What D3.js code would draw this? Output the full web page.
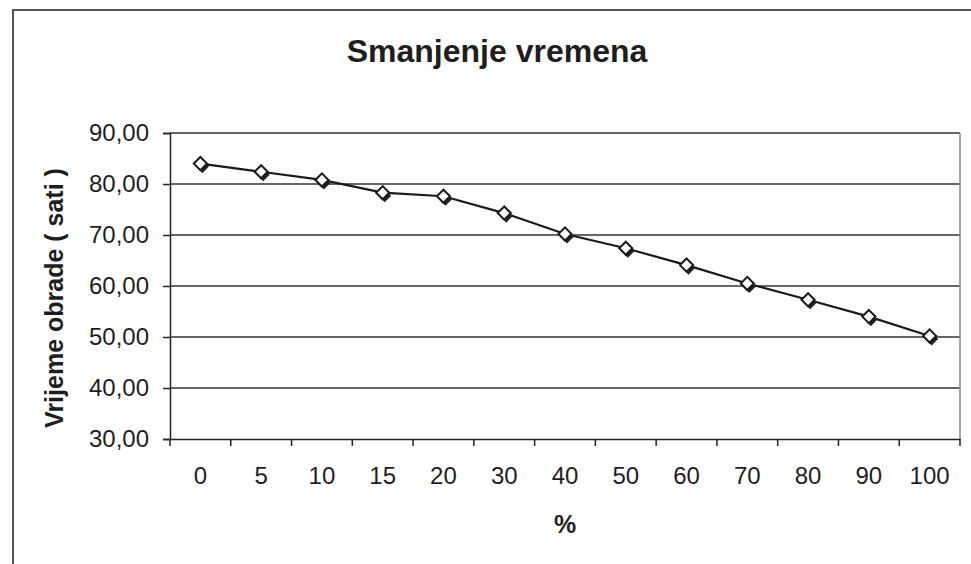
<!DOCTYPE html>
<html>
<head>
<meta charset="utf-8">
<script src="https://cdn.jsdelivr.net/npm/d3@7"></script>
<style>
  body { margin: 0; background: #fff; }
  svg text { font-family: "Liberation Sans", Arial, sans-serif; fill: #1e1e1e; }
</style>
</head>
<body>
<div id="chart"></div>
<script>
// percentages on the x axis and processing time (hours)
const categories = ["0", "5", "10", "15", "20", "30", "40", "50", "60", "70", "80", "90", "100"];
const hours = [84.0, 82.4, 80.8, 78.3, 77.6, 74.3, 70.2, 67.4, 64.1, 60.5, 57.3, 54.0, 50.2];
const yTicks = [30, 40, 50, 60, 70, 80, 90];

const W = 971, H = 564;
const plot = { left: 170, right: 960, top: 133, bottom: 439 };

const svg = d3.select("#chart").append("svg")
    .attr("width", W)
    .attr("height", H);

// outer chart frame (runs off the right and bottom of the scan)
svg.append("rect")
    .attr("x", 13).attr("y", 10)
    .attr("width", 1000).attr("height", 600)
    .attr("fill", "none")
    .attr("stroke", "#555")
    .attr("stroke-width", 2);

const x = d3.scaleBand().domain(categories).range([plot.left, plot.right]).padding(0);
const y = d3.scaleLinear().domain([30, 90]).range([plot.bottom, plot.top]);

const comma = d3.formatLocale({ decimal: ",", thousands: ".", grouping: [3], currency: ["", ""] }).format(".2f");

// gridlines
svg.append("g")
    .selectAll("line")
    .data(yTicks.filter(d => d > 30))
    .join("line")
    .attr("x1", plot.left).attr("x2", plot.right)
    .attr("y1", d => y(d)).attr("y2", d => y(d))
    .attr("stroke", "#333")
    .attr("stroke-width", 1.5);

// right border of plot area
svg.append("line")
    .attr("x1", plot.right).attr("x2", plot.right)
    .attr("y1", plot.top).attr("y2", plot.bottom)
    .attr("stroke", "#888")
    .attr("stroke-width", 1.5);

// y axis
const yAxis = svg.append("g")
    .attr("transform", `translate(${plot.left},0)`)
    .call(d3.axisLeft(y).tickValues(yTicks).tickFormat(comma).tickSize(7).tickPadding(14));
yAxis.select(".domain").attr("stroke", "#222").attr("stroke-width", 1.5);
yAxis.selectAll(".tick line").attr("stroke", "#222").attr("stroke-width", 1.5);
yAxis.selectAll(".tick text")
    .attr("font-size", 24)
    .attr("font-family", "Liberation Sans, Arial, sans-serif")
    .attr("fill", "#1e1e1e");

// x axis: labels centred in bands, ticks at band edges
const xAxis = svg.append("g")
    .attr("transform", `translate(0,${plot.bottom})`)
    .call(d3.axisBottom(x).tickSize(0).tickPadding(28));
xAxis.select(".domain").attr("stroke", "#222").attr("stroke-width", 1.5);
xAxis.selectAll(".tick text")
    .attr("font-size", 24)
    .attr("font-family", "Liberation Sans, Arial, sans-serif")
    .attr("fill", "#1e1e1e");

const edges = categories.map(c => x(c)).concat([plot.right]);
xAxis.append("g")
    .selectAll("line")
    .data(edges)
    .join("line")
    .attr("x1", d => d).attr("x2", d => d)
    .attr("y1", 0).attr("y2", 7)
    .attr("stroke", "#222")
    .attr("stroke-width", 1.5);

// series line
const line = d3.line()
    .x((d, i) => x(categories[i]) + x.bandwidth() / 2)
    .y(d => y(d));

svg.append("path")
    .datum(hours)
    .attr("d", line)
    .attr("fill", "none")
    .attr("stroke", "#1a1a1a")
    .attr("stroke-width", 2.2);

// diamond markers (dark shadow + white diamond)
const diamond = d3.symbol().type(d3.symbolDiamond2).size(110);
const markers = svg.append("g")
    .selectAll("g")
    .data(hours)
    .join("g")
    .attr("transform", (d, i) => `translate(${x(categories[i]) + x.bandwidth() / 2},${y(d)})`);
markers.append("path")
    .attr("d", diamond)
    .attr("transform", "translate(2,3)")
    .attr("fill", "#222");
markers.append("path")
    .attr("d", diamond)
    .attr("fill", "#fff")
    .attr("stroke", "#1a1a1a")
    .attr("stroke-width", 2);

// titles
svg.append("text")
    .attr("x", 497).attr("y", 62)
    .attr("text-anchor", "middle")
    .attr("font-size", 32)
    .attr("font-weight", "bold")
    .text("Smanjenje vremena");

svg.append("text")
    .attr("transform", "translate(63,298) rotate(-90)")
    .attr("text-anchor", "middle")
    .attr("font-size", 25)
    .attr("font-weight", "bold")
    .text("Vrijeme obrade ( sati )");

svg.append("text")
    .attr("x", 565).attr("y", 533)
    .attr("text-anchor", "middle")
    .attr("font-size", 25)
    .attr("font-weight", "bold")
    .text("%");
</script>
</body>
</html>
